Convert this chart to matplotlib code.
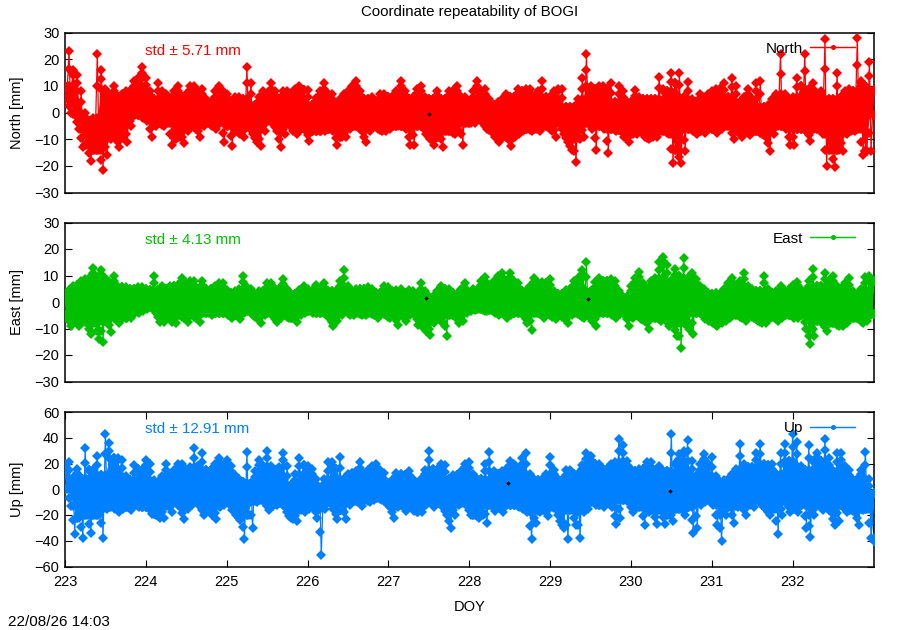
#!/usr/bin/python3

import matplotlib
matplotlib.use('Agg')
import matplotlib.pyplot as plt
from matplotlib.legend_handler import HandlerErrorbar
from matplotlib.lines import Line2D
import numpy as np

plt.rcParams['font.family'] = ['Liberation Sans', 'DejaVu Sans']

# upper / lower peaks, one row per day, 0.05 day apart
north_hi = [10, 23, 16, 14, 8, 0, -3, -2, 22, 16, 9, 7, 10, 6, 7, 8, 8, 12, 13, 17,
            13, 8, 5, 11, 8, 7, 5, 8, 10, 6, 7, 10, 10, 8, 9, 5, 4, 8, 10, 8,
            7, 4, 6, 6, 5, 17, 11, 3, 6, 8, 7, 11, 8, 5, 8, 8, 7, 9, 10, 8.5,
            8.5, 3, 5.5, 8, 11, 7, 7, 3, 5, 7, 8, 10, 12, 8, 5, 5, 6, 4, 7, 7,
            6, 6, 8, 12, 8, 5, 6, 9, 10, 6, 5, 5, 8, 5, 5, 8, 8, 10, 6, 6,
            4, 8, 12, 8, 9, 5, 3, 4, 5, 7, 6, 6, 9, 8, 9, 9, 6, 8, 12, 6,
            6, 8, 9, 9, 2, 2, 2, 5, 13, 22, 10, 9, 10, 10, 9, 11, 4, 10, 8, 4,
            4, 8.5, 6, 5, 5, 5, 5, 13.5, 9, 8, 15, 11, 14.7, 6, 11.5, 5, 4, 7, 5, 7,
            8, 9, 9, 11, 6, 13, 10, 4, 6, 9, 5, 11, 12, 2, 3, 5, 7, 22, 7, 5,
            6, 13, 10, 22, 9, 11, 7, 8, 27.5, 5, 5, 15, 6, 8, 9, 8, 28, 12, 10, 19,
            8.5]
north_lo = [5, 0, -1, -6, -13, -12, -18, -14, -14, -21.5, -16, -10, -9, -13, -9, -11, -5, -1, -1, -2,
            -3, -9, -5, -4, -5, -4, -12, -10, -9, -11.5, -7, -5, -6, -9, -5, -4, -5, -6, -4, -11,
            -5, -12.5, -7, -8, -9, -5, -8, -11, -12.5, -7, -3, -4, -7, -13, -8, -4, -7, -8, -6, -6,
            -10.5, -7, -7, -7, -7, -6, -7, -12, -9, -9, -6, -5, -5, -7, -11, -7, -5, -6, -7, -7,
            -6, -5, -5, -5, -6, -12, -12, -5, -5, -8, -10, -12, -9, -13, -7, -7, -8, -7, -12, -4,
            -4, -4, -2, -4, -6, -7, -9, -11, -9, -9, -12.5, -9, -8, -7, -6, -7, -6, -7, -5, -5,
            -7, -9, -4, -8, -11, -14, -18.5, -10, -9, -4, -6, -14, -5, -6, -15, -6, -7, -6.5, -9, -11,
            -8, -8, -7, -9, -10, -9, -9, -7, -7, -8, -19, -14, -19, -14.5, -6, -7, -8, -7, -7.5, -6,
            -6, -7.5, -6, -5, -5, -10, -7, -9, -7, -8.5, -7, -7, -8, -9, -14.5, -8, -5, -5, -6, -12,
            -12, -6, -6, -7, -10.5, -6, -6, -8, -20, -14, -20.5, -14, -14.5, -8, -7, -7, -6, -16, -14.5, -14.5,
            -1]

east_hi = [2.5, 4.5, 6, 6.5, 8, 8.5, 9, 13, 9, 12, 9, 7.5, 10, 5.5, 5.5, 5.5, 5, 5, 5.5, 5.5,
           5, 4.5, 10, 4.5, 6, 5, 6, 6, 6.5, 9, 7, 8, 8, 5, 8, 5, 5, 6, 7, 7,
           4.5, 3.5, 4, 5, 10, 5.5, 5, 2.5, 4, 4, 7, 7, 5, 5, 8.5, 5, 3, 3, 4.5, 6,
           5, 4, 6.5, 5, 7, 4, 4, 4, 8, 12, 6, 4, 5, 5, 5, 5.5, 5, 3.5, 3.5, 6,
           5.5, 4, 4.5, 5, 3.5, 4.5, 4, 3, 7, 4, 2, 2, 4, 6, 5, 5, 3.5, 3, 5, 7,
           3.5, 5, 4.5, 8, 9.5, 6, 8, 10, 11, 8, 11, 8, 7, 4, 4, 6, 9, 7, 7.5, 7,
           8.5, 4, 3, 3, 4.5, 5, 8, 9, 12, 15, 4, 7.5, 9, 8, 8, 8.5, 8, 4, 2, 2,
           6, 9, 11.5, 7, 5, 8, 9, 15, 17, 14, 8, 12.5, 10, 16.5, 9, 11, 8.5, 6, 5, 3.5,
           3, 3.5, 3, 5, 7, 9, 6, 8, 11, 6, 5, 4, 4, 10, 5, 3.5, 4, 6, 4, 5,
           6.5, 7.5, 5, 4, 8, 12.5, 6, 6, 11, 8, 10, 6, 5, 7, 9, 4, 2.5, 5, 9.5, 10,
           8]
east_lo = [-5, -9, -7, -9, -7, -8, -12, -8, -14, -15, -7, -11.5, -6, -8, -6, -6, -6, -4, -4, -3.5,
           -2.5, -2, -4, -7.5, -7.5, -5, -7.5, -8, -5, -6, -7.5, -5, -6, -7.5, -4, -4, -5, -4, -4, -4,
           -5, -6, -5, -6.5, -4, -3.5, -5, -6, -8, -5, -4, -5, -7.5, -6, -5, -6, -6, -7.5, -5, -4,
           -3.5, -4, -4, -4, -4, -6, -9, -7, -5, -3, -5, -5, -4, -5, -5, -4, -5, -6, -4, -5,
           -6, -5, -8.5, -5, -7, -5, -4, -8.5, -9, -11, -12.5, -8, -6, -8, -13, -5, -5, -8, -7, -4,
           -3.5, -3, -2.5, -3, -3.5, -3, -4, -5, -4, -6, -5, -4, -4, -5, -8, -10.5, -4, -4.5, -6, -4,
           -5.5, -6.5, -5, -6, -8, -5, -4, -5, -6, -5, -7, -9, -4, -4, -4, -5, -6, -4.5, -4, -9,
           -6, -5, -6.5, -7, -10, -6, -6, -7, -6, -9, -8, -13, -17.5, -8, -10, -12, -4, -4, -6.5, -7,
           -8, -9, -8, -7, -6, -5, -5, -6, -7, -5, -6, -7, -8, -8, -6, -5.5, -7, -6, -5, -5,
           -6, -6, -5, -10, -16, -13, -7, -8, -11, -8, -8, -9, -9, -8, -6, -6, -6, -8, -7, -5,
           -4.5]

up_hi = [19, 21, 9, 16, 9, 32, 15, 15, 26, 11, 43, 36, 24, 24, 23, 10, 7, 19, 16, 15,
         23, 20, 7, 6, 10, 20, 12, 15, 20, 20, 15, 17, 32, 18, 28, 15, 15, 20, 24, 18,
         23, 18, 11, 8, 6, 29, 5, 14, 23, 18, 30, 18, 15, 17, 28, 18, 3, 12, 24, 19,
         18, 16, 8, 0, 8, 21, 21, 16, 25, 8, 12, 13, 14, 21, 12, 15, 18, 20, 15, 13,
         3, 7, 13, 12, 11, 14, 8, 3, 8, 15, 30, 16, 15, 20, 19, 8, 11, 11, 14, 20,
         21, 12, 8, 8, 20, 29, 14, 12, 14, 16, 22, 20, 16, 24, 28, 12, 8, 7, 8, 12,
         25, 15, 8, 7, 15, 15, 12, 12, 19, 28, 26, 20, 20, 16, 16, 20, 21, 39, 34, 22,
         16, 14, 16, 16, 21, 21, 14, 18, 14, 14, 43, 20, 27, 30, 38, 22, 10, 20, 27, 20,
         25, 10, 6, 7, 8, 12, 16, 35, 20, 17, 17, 28, 35, 20, 19, 20, 12, 28, 35, 22,
         43, 37, 18, 15, 34, 22, 28, 22, 39, 24, 14, 28, 28, 18, 15, 7, 8, 15, 29, 8,
         -3]
up_lo = [0, -13, -35, -22, -38, -20, -34, -20, -20, -38, -15, -14, -15, -18, -15, -14, -16, -12, -14, -14,
         -14, -19, -20, -22, -22, -13, -18, -10, -14, -23, -15, -12, -10, -13, -20, -16, -20, -23, -14, -12,
         -10, -16, -20, -24, -39, -20, -30, -10, -8, -10, -16, -13, -12, -11, -14, -21, -23, -25, -16, -18,
         -15, -13, -22, -51, -15, -10, -15, -23, -16, -23, -12, -9, -10, -13, -8, -10, -8, -7, -8, -10,
         -14, -22, -14, -12, -17, -14, -17, -18, -18, -12, -10, -14, -11, -14, -20, -30, -20, -12, -11, -12,
         -20, -20, -22, -20, -26, -12, -17, -14, -18, -12, -12, -12, -14, -15, -18, -39, -26, -18, -16, -21,
         -14, -15, -25, -30, -39, -16, -28, -38, -18, -15, -10, -12, -12, -14, -10, -14, -27, -22, -8, -10,
         -18, -14, -14, -28, -18, -16, -27, -16, -27, -20, -25, -15, -15, -20, -14, -34, -30, -12, -10, -8,
         -12, -28, -40, -20, -14, -26, -14, -12, -20, -12, -14, -8, -12, -15, -20, -15, -35, -20, -10, -18,
         -15, -18, -12, -30, -37, -20, -12, -16, -14, -18, -28, -25, -12, -18, -16, -18, -28, -16, -15, -38,
         -41]

# the few black epochs that show through
north_black_doy = [227.5]
north_black = [-0.5]
east_black_doy = [227.47, 229.47]
east_black = [1.5, 1]
up_black_doy = [228.48, 230.48]
up_black = [5, -1.5]

day_ticks = [223, 224, 225, 226, 227, 228, 229, 230, 231, 232]

W, H = 900., 630.
LEFT, RIGHT = 65., 873.5


class CappedErrorbar(HandlerErrorbar):
    # the stock handler draws flat caps, the gnuplot key has upright ones
    def create_artists(self, *args, **kwargs):
        artists = super().create_artists(*args, **kwargs)
        for a in artists:
            if isinstance(a, Line2D) and len(a.get_xdata()) == 1 and a.get_marker() != 'o':
                a.set_marker('|')
        return artists


def addPanel(fig, top, bottom):
    return fig.add_axes([LEFT / W, 1 - bottom / H, (RIGHT - LEFT) / W, (bottom - top) / H])


def bodyEdge(values, pick):
    # solid part of the band: the valleys between the peaks
    values = np.asarray(values, dtype=float)
    padded = np.concatenate(([values[0]], values, [values[-1]]))
    return pick(np.column_stack((padded[:-2], padded[1:-1], padded[2:])), axis=1)


def drawPanel(ax, hi, lo, black_doy, black, color, name, std, ylim, yticks):
    doy = np.linspace(223, 233, len(hi))
    top = bodyEdge(hi, np.min)
    bot = bodyEdge(lo, np.max)

    # peaks go up and down alternately like the raw epochs do
    x = np.empty(len(hi) * 2)
    y = np.empty(len(hi) * 2)
    x[0::2] = doy
    x[1::2] = doy + 0.02
    y[0::2] = hi
    y[1::2] = lo

    mark = dict(color=color, marker='D', ms=4.6, mew=0, zorder=3)
    ax.fill_between(doy, bot, top, color=color, lw=0, zorder=2)
    ax.plot(doy, top, ls='none', **mark)
    ax.plot(doy, bot, ls='none', **mark)
    # stacked epochs on the way up each peak
    ax.plot(doy, (np.asarray(hi) + top) / 2, ls='none', **mark)
    ax.plot(doy, (np.asarray(lo) + bot) / 2, ls='none', **mark)
    ax.plot(x, y, lw=0.9, **mark)
    ax.plot(black_doy, black, ls='none', marker='D', ms=2.2, mew=0, color='black', zorder=4)

    proxy = ax.errorbar([], [], xerr=[], color=color, lw=0.9, marker='o', ms=3.6, mew=0,
                        elinewidth=0.9, capsize=3, capthick=0.8, label=name)

    ax.set_xlim(223, 233)
    ax.set_ylim(ylim)
    ax.set_yticks(yticks)
    ax.tick_params(axis='y', direction='in', length=5, width=0.8, right=True, labelsize=10.5, pad=4)
    ax.set_ylabel(f'{name} [mm]', fontsize=10.5)
    ax.yaxis.set_label_coords(-0.051, 0.5)
    for spine in ax.spines.values():
        spine.set_linewidth(1.1)

    ax.text(0.099, 0.887, f'std ± {std} mm', color=color, fontsize=10.9, transform=ax.transAxes,
            va='center', ha='left', zorder=6)

    ax.legend(handles=[proxy], loc='upper right', frameon=False, markerfirst=False, fontsize=11,
              numpoints=1, handlelength=2.95, handletextpad=0.45, borderaxespad=0,
              bbox_to_anchor=(0.985, 0.98),
              handler_map={type(proxy): CappedErrorbar(xerr_size=1.48)})


fig = plt.figure(figsize=(9, 6.3), dpi=100)

ax1 = addPanel(fig, 32.5, 192.5)
ax2 = addPanel(fig, 222.5, 381.5)
ax3 = addPanel(fig, 412, 566.5)

drawPanel(ax1, north_hi, north_lo, north_black_doy, north_black,
          '#ff0000', 'North', '5.71', (-30, 30), [-30, -20, -10, 0, 10, 20, 30])
drawPanel(ax2, east_hi, east_lo, east_black_doy, east_black,
          '#00c000', 'East', '4.13', (-30, 30), [-30, -20, -10, 0, 10, 20, 30])
drawPanel(ax3, up_hi, up_lo, up_black_doy, up_black,
          '#0080ff', 'Up', '12.91', (-60, 60), [-60, -40, -20, 0, 20, 40, 60])

for ax in (ax1, ax2):
    ax.set_xticks([])

ax3.set_xticks(day_ticks)
ax3.tick_params(axis='x', direction='in', length=5, width=0.8, top=True, labelsize=10.5, pad=6)
ax3.set_xlabel('DOY', fontsize=10.5, labelpad=8)

ax1.set_title('Coordinate repeatability of BOGI', fontsize=10.85, pad=12)
fig.text(8 / W, 1 - 622 / H, '22/08/26 14:03', fontsize=10.95, va='center', ha='left')

fig.savefig('out.png', dpi=100)
plt.close(fig)
